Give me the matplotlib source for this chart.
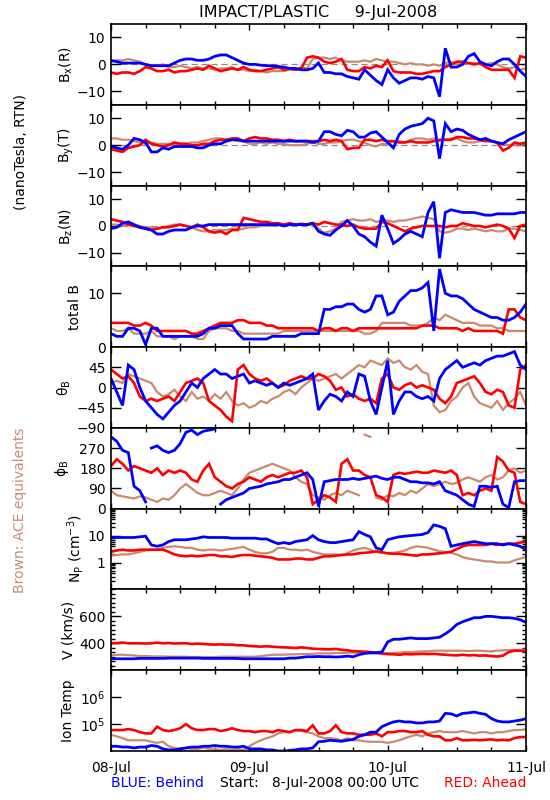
import numpy as np
import matplotlib
matplotlib.use('Agg')
import matplotlib.pyplot as plt
from matplotlib.ticker import FixedLocator, NullLocator, MultipleLocator, LogLocator, NullFormatter, FixedFormatter, AutoMinorLocator

# ---------------- data (hourly samples, 8-Jul-2008 00:00 .. 11-Jul-2008 00:00) ----------------
hours = np.arange(73)

bx_blue = [1.5, 1, 0.5, 0.5, 0.5, 0.5, 0, -0.5, -0.5, -0.5, -0.5, 0.5,
           1.5, 2, 2, 1.5, 1.5, 2, 3, 3.5, 3.5, 2.5, 1.5, 0.5,
           0, 0, -0.3, -0.5, -0.5, -0.8, -1, -1.5, -1.5, -2, -2, -1.5,
           0.5, -3, -3, -3.5, -3.5, -4.5, -5, -5.5, -2, -4, -6, -7.5,
           -2, -5, -7, -6, -5, -5, -5.5, -4.5, -5, -12, 6, -1,
           -1, 0, 3, 4, 1, 0, -0.5, 1, 2, 2, 0, -2.5,
           -4.5]
bx_red = [-3, -3.5, -3, -3, -3.5, -2.5, -1, -1.5, -2.5, -2.5, -2, -3,
          -2.5, -2.5, -2, -1.5, -2, -0.5, -1.5, -2.5, -2, -1.5, -2, -1,
          -2, -2.5, -2.5, -2, -1.5, -1, -2, -1.5, -2, -1.5, 2.5, 3,
          2.5, 1, 0.5, 1, 2, -2, -2.5, -2.5, -1, -1.5, -0.5, -1,
          1.5, -2.5, -3, -3, -3, -3.5, -3.5, -3, -2.5, -2.5, -1, 0,
          1, 1, 0.5, 0, 0.5, -1, -2, -2, -2, -2, -5, 3,
          2.5]
bx_brown = [1, 1.5, 1.5, 2, 1.5, 1, 0, -0.5, -0.5, 0, -1, -1,
            -0.5, -1, -1.5, -1, -1.5, -1.5, -2, -1.5, -1.5, -1, -2, -2,
            -2.5, -2, -2.5, -3, -2.5, -2.5, -2.5, -2, -2, -1, -1.5, 2,
            2.5, 2.5, 2, 2.5, 1.5, 1, 1, 1, 1.5, 1, 2, 1.5,
            1, 1, 0.5, 0, 0.5, 0, 0, -0.5, 0, -0.5, 0.5, 1,
            0, 0.5, 0.5, 0.5, 0, 0, 0.5, 0, -1, -1.5, -1, -2,
            -1.5]

by_blue = [-0.5, -1, -1.5, 0, 2.5, 2, 1, -2.5, -2.5, -1, -1.5, -0.5,
           -0.5, -0.5, -0.5, -1, -1, 0, 0.5, 0.5, 1.5, 2, 2, 1.5,
           1.5, 1.5, 1.5, 1.5, 1.5, 1.5, 1.5, 1.5, 1.5, 1.5, 1.5, 1,
           1.5, 5, 5, 4, 3.5, 5.5, 5, 3, 3, 4.5, 5, 3,
           1, -1, 4, 6, 7, 7.5, 8, 10, 9, -5, 8, 5,
           6, 5.5, 4, 3, 2, 2.5, 1.5, 1, 0.5, 2, 3, 4,
           5]
by_red = [-1.5, -2, -2.5, -1, -0.5, 0, 2, 0.5, 0, -0.5, 0, 1,
          0.5, 0.5, 0, 0, 0.5, 0.5, 1.5, 2, 2, 2.5, 2.5, 1.5,
          2.5, 3, 2.5, 2.5, 2, 2, 1.5, 2, 1.5, 1.5, 1.5, 1.5,
          1.5, 2, 1.5, 2, 1.5, -1.5, -1, -1, 2, 2, 1.5, 2,
          1.5, 1.5, 1, 1, 1.5, 1, 1, 1, 1.5, 2, 2, 2,
          3, 3, 2.5, 2.5, 2, 1.5, 1.5, 1, -2, -1, 1, 0.5,
          1]
by_brown = [2.5, 2.5, 2, 2, 1.5, 1, 0.5, 1, 0.5, 0.5, 0.5, 0,
            0.5, 0.5, 1, 1, 1.5, 2, 2.5, 2.5, 2, 2, 1.5, 1.5,
            0.5, 0.5, 1, 0.5, 1, 0.5, 0.5, 0, 0, 0, 0.5, 1,
            0.5, 0.5, 1, 1, 1.5, 2, 2, 1.5, 1, 0, -0.5, 0.5,
            0.5, 1.5, 1.5, 1, 2, 2.5, 2.5, 2, 2.5, 1.5, 2, 2.5,
            2.5, 1.5, 1, 1, 1.5, 2, 1.5, 1, 0.5, 0, 0.5, 0,
            0.5]

bz_blue = [-1, -0.5, 1, 1.5, 0.5, -0.5, -1, -1.5, -3, -3, -2, -1.5,
           -1.5, -1.5, -0.5, 0, 0, 0.5, 0.5, 0.5, 0.5, 0.5, 0.5, 0.5,
           0.5, 0.5, 0.5, 0.5, 0.5, 0.5, 0, 0.5, 0.5, 0.5, 0.5, 1,
           -2, -3, -3.5, -1.5, 0, 2, 0, -3, -4, -6, -7.5, 4,
           -1, -6.5, -5, -3, -2, -3, -4, 5, 9, -12, 5, 6,
           5.5, 5, 5, 5, 4.5, 4, 4, 4.5, 4.5, 4.5, 4.5, 5,
           5]
bz_red = [2.5, 2, 1.5, 0.5, 0, -0.5, -1, -1.5, -1, -0.5, -0.5, 0,
          0.5, 0, -0.5, 0.5, -0.5, -2, -2.5, -2, -3, -1.5, -1.5, 3,
          2.5, 2, 1.5, 1.5, 1, 1, 0.5, 1, 0.5, 0.5, 0.5, 1,
          0.5, 1.5, 1, 0.5, 0.5, 0, 0.5, -0.5, -1, -1, -1, 1.5,
          1, 0, -1, -2, -1, -0.5, 0, 0, 0, 0, -0.5, 0,
          0, 1, 0.5, 0, 0, -0.5, 0, 0.5, 0, -1, -4.5, 0,
          0.5]
bz_brown = [0.5, 0.5, 0, 0.5, 0.5, 0, -0.5, -0.5, -1, -0.5, 0, 0.5,
            0.5, 0, -0.5, -1.5, -2, -2, -1.5, -1.5, -1.5, -1, -1.5, -1,
            -0.5, -0.5, 0, 0, 0, 0.5, 0.5, 1, 0.5, 1, 0.5, 0.5,
            -1, -2.5, -2, -1, 1.5, 2, 2.5, 2, 2, 2.5, 1.5, 2,
            2, 1.5, 2, 2, 2.5, 3, 3.5, 3, 2.5, -2, -2.5, -2,
            -1, -1, -1.5, -1, -1.5, -2, -1.5, -2, -2, -1, -1, -1.5,
            -2]

bt_blue = [2.5, 2, 2, 3.5, 3.5, 3, 0.5, 3.5, 3.5, 2, 2, 2,
           2, 2, 2, 2, 2.5, 3.5, 3.5, 4, 4, 4, 2.5, 1.5,
           1.5, 1.5, 1.5, 1.5, 2, 2, 2, 2, 2, 2.5, 2.5, 2.5,
           2.5, 7, 7, 7.5, 7.5, 8, 8, 7, 6.5, 7, 9.5, 9.5,
           6, 6.5, 8.5, 9.5, 10.5, 10.5, 11, 12, 3, 14.5, 10, 9.5,
           9.5, 9, 8, 7, 6.5, 6, 5.5, 5.5, 5, 5, 5.5, 6.5,
           8]
bt_red = [4.5, 4.5, 4.5, 4.5, 4, 4, 4.5, 4, 3, 3, 3, 3,
          3, 3, 2.5, 2.5, 3, 3.5, 4, 4.5, 4.5, 4.5, 5, 5,
          4.5, 4.5, 4.5, 4, 4, 3.5, 3.5, 3.5, 3.5, 3.5, 3.5, 3.5,
          3, 3.5, 3.5, 3, 3.5, 3.5, 3, 3.5, 3.5, 3.5, 3.5, 3.5,
          3.5, 3.5, 3.5, 3.5, 3.5, 3.5, 4, 4, 4, 3.5, 3.5, 3.5,
          3.5, 3, 3.5, 3, 3, 3, 3, 3, 2.5, 7, 7, 5.5,
          5]
bt_brown = [3.5, 3, 3, 3.5, 2.5, 2.5, 2.5, 3, 2, 2, 2, 1.5,
            2, 2, 2, 1.5, 1.5, 3, 3.5, 3.5, 3.5, 3, 3, 2.5,
            2.5, 2.5, 2.5, 2.5, 2.5, 2.5, 3, 3, 3, 3, 3, 3,
            3, 3, 3, 3, 3, 3, 3, 3, 2.5, 2.5, 3, 4.5,
            4.5, 4.5, 4.5, 4.5, 4, 4, 4, 4.5, 5.5, 5, 6, 5.5,
            5, 4.5, 4.5, 4.5, 4, 4, 4, 3.5, 3.5, 3, 3, 3,
            3]

th_blue = [20, -10, -40, 50, 40, 0, -30, -45, -60, -70, -55, -40,
           -30, -10, 10, 0, 20, 30, 40, 30, 30, 20, 25, 30,
           10, 15, 10, 5, 10, 0, 10, 5, 10, 15, 20, 30,
           -50, -30, -15, -20, -30, -10, -20, 30, 25, -30, -60, 0,
           60, -60, -30, -10, -10, -20, -25, -20, -30, 20, 40, 50,
           60, 45, 50, 55, 50, 60, 65, 70, 70, 75, 80, 50,
           40]
th_red = [40, 30, 20, 25, 10, -20, -30, -25, -30, -25, -20, -30,
          -10, 10, 15, 20, 10, -30, -40, -50, -65, -75, 40, 50,
          30, 20, 15, 20, 10, 0, 5, 15, 20, 25, 20, 20,
          30, 25, 15, -5, 0, -20, -15, -25, -30, -25, -35, 20,
          30, 0, -5, 5, 10, 0, 5, 0, -5, -25, -35, -20,
          10, 15, 20, 25, 10, -10, -15, -5, -10, -40, -45, 40,
          50]
th_brown = [10, 15, 10, 30, 25, 20, 15, 10, -10, -20, -15, -5,
            -20, -30, -10, -25, -20, -30, -15, -25, -10, -30, -40, -35,
            -45, -40, -30, -35, -25, -20, -10, -5, -15, 0, 10, 20,
            15, 20, 25, 30, 20, 30, 40, 50, 45, 60, 55, 50,
            65, 55, 60, 45, 40, 50, 35, 30, -40, -55, -50, -30,
            -20, 0, 10, -20, -35, -40, -45, -30, -50, -35, -25, -10,
            -40]

ph_blue = [320, 300, 260, 250, 100, 80, 30, 270, 280, 260, 250, 260,
           290, 340, 350, 330, 345, 350, 355, 20, 40, 50, 60, 70,
           90, 95, 100, 110, 115, 120, 130, 130, 140, 150, 160, 130,
           10, 120, 125, 130, 130, 130, 135, 130, 135, 140, 145, 135,
           130, 140, 140, 130, 120, 120, 115, 115, 110, 120, 80, 70,
           60, 40, 20, 10, 100, 100, 95, 100, 20, 5, 120, 125,
           125]
ph_red = [190, 220, 200, 170, 190, 180, 170, 160, 180, 150, 170, 160,
          170, 160, 130, 120, 170, 200, 140, 120, 100, 90, 110, 120,
          140, 130, 120, 140, 150, 140, 150, 160, 160, 170, 140, 20,
          40, 60, 50, 30, 200, 220, 170, 170, 150, 140, 60, 50,
          30, 150, 160, 155, 160, 165, 160, 160, 170, 165, 160, 170,
          150, 60, 70, 60, 80, 90, 80, 230, 210, 170, 160, 30,
          20]
ph_brown = [80, 60, 55, 50, 45, 55, 50, 40, 30, 45, 40, 60,
            90, 110, 90, 70, 60, 60, 70, 80, 70, 60, 90, 130,
            160, 170, 180, 190, 200, 190, 180, 170, 140, 120, 110, 60,
            50, 40, 60, 70, 60, 80, 70, 60, 330, 320, 50, 40,
            60, 55, 70, 60, 80, 70, 90, 110, 100, 110, 120, 110,
            115, 130, 140, 130, 120, 140, 150, 130, 140, 170, 180, 160,
            170]

np_blue = [8.5, 8.5, 8.5, 8.5, 8.5, 9, 9.5, 4.5, 4, 4.5, 6, 7,
           7, 7, 7.5, 8, 9, 8.5, 8.5, 8.5, 8.5, 8, 8, 8,
           8, 8, 7.5, 7.5, 6, 5, 5.5, 5, 6, 6.5, 7, 10,
           7, 6, 5.5, 5.5, 6, 6.5, 7, 14, 11, 9, 3.5, 3,
           7, 8, 9, 9.5, 10, 10.5, 11, 13, 25, 22, 18, 4,
           4.5, 5, 5.5, 6, 5.5, 5, 5, 5, 4.5, 5, 4.5, 4,
           3]
np_red = [2.5, 2.8, 3, 2.8, 2.8, 3, 3, 3, 3, 3, 2.5, 2,
          1.8, 1.7, 1.8, 1.7, 1.8, 1.9, 1.9, 1.7, 1.7, 1.6, 1.8, 1.9,
          1.9, 1.8, 1.7, 1.6, 1.5, 1.3, 1.3, 1.3, 1.4, 1.4, 1.3, 1.3,
          1.5, 1.7, 1.7, 1.8, 1.9, 2, 2, 2.2, 2.3, 2.4, 2.6, 2.4,
          2.2, 2.1, 2.1, 2, 1.9, 1.8, 2, 2, 2.1, 2.2, 2.3, 2.5,
          3.2, 4, 4.5, 4.5, 4.5, 4.5, 5, 4.5, 4.8, 5, 5, 5.5,
          6]
np_brown = [1.8, 1.9, 2, 2, 2.2, 2.5, 2.8, 3, 3, 3.5, 3.8, 4,
            3.8, 3.5, 3.5, 3, 2.8, 3, 3, 2.8, 3, 3.2, 3.5, 3.8,
            3, 2.5, 2.2, 2.2, 2.5, 3.5, 3.5, 3, 3, 2.8, 3, 2.5,
            2.2, 2, 2, 2, 1.9, 2.2, 2.8, 3.2, 3.5, 3, 2.5, 2.3,
            2.2, 2.3, 2.5, 2.8, 3.5, 4, 3.8, 3.5, 3, 2.6, 2.5, 2.3,
            2, 1.6, 1.4, 1.3, 1.2, 1.1, 1.1, 1, 1, 1, 1.2, 1.4,
            1.6]

v_blue = [285, 285, 285, 285, 285, 288, 288, 288, 288, 288, 290, 290,
          290, 290, 290, 290, 288, 288, 288, 288, 288, 288, 287, 285,
          285, 285, 285, 285, 285, 285, 285, 290, 290, 295, 300, 300,
          302, 300, 300, 298, 300, 305, 300, 315, 325, 330, 330, 335,
          410, 430, 430, 435, 440, 435, 435, 435, 440, 445, 470, 500,
          540, 560, 575, 590, 590, 600, 600, 595, 590, 590, 585, 575,
          555]
v_red = [400, 402, 405, 400, 400, 400, 398, 400, 405, 400, 402, 398,
         400, 400, 395, 398, 395, 392, 390, 392, 390, 390, 385, 385,
         380, 378, 375, 378, 375, 372, 370, 368, 365, 370, 365, 360,
         358, 356, 355, 358, 352, 348, 342, 340, 338, 335, 330, 325,
         320, 318, 315, 320, 318, 320, 322, 320, 322, 318, 315, 312,
         310, 315, 310, 312, 308, 310, 305, 302, 308, 335, 345, 345,
         340]
v_brown = [310, 315, 315, 312, 310, 305, 305, 303, 302, 302, 300, 300,
           300, 300, 298, 298, 298, 297, 298, 300, 300, 300, 300, 300,
           300, 300, 305, 310, 315, 315, 315, 318, 318, 320, 320, 322,
           325, 325, 325, 328, 328, 330, 330, 330, 328, 325, 325, 325,
           325, 328, 330, 335, 335, 338, 340, 340, 345, 345, 345, 345,
           345, 345, 342, 345, 345, 342, 340, 345, 348, 350, 350, 352,
           352]

t_blue = [1.5e4, 1.5e4, 1.4e4, 1.4e4, 1.3e4, 1.4e4, 1.4e4, 1.6e4, 1.5e4, 1.2e4, 1.1e4, 1.1e4,
          1.2e4, 1.3e4, 1.4e4, 1.4e4, 1.5e4, 1.5e4, 1.6e4, 1.5e4, 1.5e4, 1.4e4, 1.4e4, 1.5e4,
          1.2e4, 1.2e4, 1.2e4, 1.1e4, 1.1e4, 1.0e4, 1.0e4, 1.05e4, 1.1e4, 1.2e4, 1.2e4, 1.3e4,
          2.2e4, 2.3e4, 2.5e4, 2.4e4, 2.3e4, 2.5e4, 2.7e4, 3.5e4, 4e4, 5e4, 5e4, 8e4,
          1e5, 1.2e5, 1.3e5, 1.2e5, 1.2e5, 1.1e5, 1.1e5, 1.2e5, 1.2e5, 1.3e5, 2.5e5, 2.4e5,
          2e5, 2.5e5, 2.6e5, 2.8e5, 2.5e5, 2.3e5, 1.6e5, 1.3e5, 1.2e5, 1.2e5, 1.3e5, 1.4e5,
          1.6e5]
t_red = [6e4, 6e4, 6e4, 6.5e4, 6e4, 5e4, 4.5e4, 4.5e4, 8e4, 6e4, 5.5e4, 6e4,
         7e4, 1e5, 7e4, 6e4, 6e4, 6.5e4, 6.5e4, 5.5e4, 6e4, 7e4, 6e4, 5.5e4,
         5.5e4, 5e4, 5.5e4, 5.5e4, 5e4, 6e4, 5.5e4, 5e4, 6e4, 6e4, 5.5e4, 9e4,
         4.5e4, 4.5e4, 5.5e4, 9e4, 5e4, 4.5e4, 4.5e4, 4e4, 4e4, 4e4, 4.5e4, 3.5e4,
         5e4, 5e4, 5.5e4, 5.5e4, 5e4, 5e4, 5.5e4, 4e4, 3.5e4, 3.5e4, 2.5e4, 2.5e4,
         3e4, 2.5e4, 2.5e4, 2.6e4, 2.5e4, 2.6e4, 2.7e4, 2.5e4, 2.6e4, 2.5e4, 3e4, 3.3e4,
         3.3e4]
t_brown = [4e4, 3.5e4, 3e4, 2.5e4, 2.5e4, 2.5e4, 2.5e4, 2.2e4, 2e4, 2.2e4, 1.5e4, 1.3e4,
           1.2e4, 1.3e4, 1.2e4, 1.2e4, 1.3e4, 1.2e4, 1.2e4, 1.1e4, 1.2e4, 1.1e4, 1.2e4, 1.1e4,
           1.5e4, 2e4, 2.5e4, 3e4, 3.5e4, 4.5e4, 5e4, 5e4, 6e4, 5.5e4, 5e4, 4.5e4,
           3.5e4, 3e4, 3e4, 2.8e4, 2.5e4, 3e4, 2.5e4, 2.5e4, 2.3e4, 2.2e4, 2.2e4, 2.2e4,
           2e4, 2.2e4, 2.5e4, 3e4, 3.5e4, 4e4, 3.5e4, 4.5e4, 5e4, 5.5e4, 5e4, 5e4,
           5e4, 5.5e4, 5e4, 4.5e4, 5e4, 5e4, 4.5e4, 5e4, 5e4, 5.5e4, 6e4, 6e4,
           6.5e4]

day_labels = ['08-Jul', '09-Jul', '10-Jul', '11-Jul']

# ---------------- styling ----------------
BLUE = '#0000FF'
RED = '#FF0000'
BROWN = '#C98A6E'
FS = 10

plt.rcParams['font.family'] = ['DejaVu Sans']
plt.rcParams['mathtext.default'] = 'regular'

fig = plt.figure(figsize=(5.5, 8), dpi=100)
L, R = 111 / 550, 526 / 550
TOP, BOT = 1 - 24 / 800, 1 - 751 / 800
H = (TOP - BOT) / 9


def unwrap_nan(x, y, jump=180):
    x = np.asarray(x, float)
    y = np.asarray(y, float)
    xs, ys = [x[0]], [y[0]]
    for i in range(1, len(y)):
        if abs(y[i] - y[i - 1]) > jump:
            xs.append(np.nan)
            ys.append(np.nan)
        xs.append(x[i])
        ys.append(y[i])
    return np.array(xs), np.array(ys)


panels = [
    dict(label=r'B$_{x}$(R)', data=(bx_brown, bx_red, bx_blue), ylim=(-15, 15), ticks=[-10, 0, 10],
         tlab=['\u221210', '0', '10'], zero=True, lx=66),
    dict(label=r'B$_{y}$(T)', data=(by_brown, by_red, by_blue), ylim=(-15, 15), ticks=[-10, 0, 10],
         tlab=['\u221210', '0', '10'], zero=True, lx=66),
    dict(label=r'B$_{z}$(N)', data=(bz_brown, bz_red, bz_blue), ylim=(-15, 15), ticks=[-10, 0, 10],
         tlab=['\u221210', '0', '10'], zero=True, lx=66),
    dict(label='total B', data=(bt_brown, bt_red, bt_blue), ylim=(0, 15), ticks=[0, 10],
         tlab=['0', '10'], lx=75),
    dict(label=r'$\theta_{B}$', data=(th_brown, th_red, th_blue), ylim=(-90, 90), ticks=[-90, -45, 0, 45],
         tlab=['\u221290', '\u221245', '0', '45'], lx=64),
    dict(label=r'$\phi_{B}$', data=(ph_brown, ph_red, ph_blue), ylim=(0, 360), ticks=[0, 90, 180, 270],
         tlab=['0', '90', '180', '270'], wrap=True, lx=62),
    dict(label=r'N$_{P}$ (cm$^{-3}$)', data=(np_brown, np_red, np_blue), ylim=(0.1, 100), ticks=[1, 10],
         tlab=['1', '10'], log=True, lx=76),
    dict(label='V (km/s)', data=(v_brown, v_red, v_blue), ylim=(200, 800), ticks=[400, 600],
         tlab=['400', '600'], vminor=True, lx=68),
    dict(label='Ion Temp', data=(t_brown, t_red, t_blue), ylim=(1e4, 1e7), ticks=[1e5, 1e6],
         tlab=[r'10$^{5}$', r'10$^{6}$'], log=True, nominor=True, lx=68),
]

colors = (BROWN, RED, BLUE)
widths = (1.6, 1.9, 2.0)

for i, p in enumerate(panels):
    ax = fig.add_axes([L, TOP - (i + 1) * H, R - L, H])
    if p.get('log'):
        ax.set_yscale('log')
    if p.get('zero'):
        ax.axhline(0, color='#8c8c8c', lw=0.9, ls=(0, (5, 3)), zorder=1)
    for arr, c, w in zip(p['data'], colors, widths):
        if p.get('wrap'):
            xx, yy = unwrap_nan(hours, arr)
        else:
            xx, yy = hours, np.asarray(arr, float)
        ax.plot(xx, yy, color=c, lw=w, zorder=2, solid_joinstyle='miter')
    ax.set_xlim(0, 72)
    ax.set_ylim(*p['ylim'])
    ax.yaxis.set_major_locator(FixedLocator(p['ticks']))
    ax.yaxis.set_major_formatter(FixedFormatter(p['tlab']))
    if p.get('log'):
        if p.get('nominor'):
            ax.yaxis.set_minor_locator(NullLocator())
        else:
            ax.yaxis.set_minor_locator(LogLocator(base=10, subs=np.arange(2, 10)))
        ax.yaxis.set_minor_formatter(NullFormatter())
    elif p.get('vminor'):
        ax.yaxis.set_minor_locator(AutoMinorLocator(6))
    else:
        ax.yaxis.set_minor_locator(NullLocator())
    ax.xaxis.set_major_locator(FixedLocator([0, 24, 48, 72]))
    ax.xaxis.set_minor_locator(MultipleLocator(6))
    if i == len(panels) - 1:
        ax.set_xticklabels(day_labels)
    else:
        ax.set_xticklabels([])
    ax.tick_params(axis='both', which='both', direction='in', top=True, right=True,
                   labelsize=FS, width=1.0, colors='black')
    ax.tick_params(axis='x', which='major', length=4, pad=7)
    ax.tick_params(axis='x', which='minor', length=3)
    ax.tick_params(axis='y', which='major', length=7, pad=4)
    ax.tick_params(axis='y', which='minor', length=3)
    for s in ax.spines.values():
        s.set_linewidth(1.2)
    ax.set_ylabel(p['label'], fontsize=FS, va='center')
    ax.yaxis.set_label_coords((p['lx'] - 111) / 415, 0.5)

fig.text((L + R) / 2, 1 - 12 / 800, 'IMPACT/PLASTIC     9-Jul-2008', ha='center', va='center', fontsize=11.5)
fig.text(21 / 550, 1 - 152 / 800, '(nanoTesla, RTN)', rotation=90, ha='center', va='center', fontsize=FS)
fig.text(20 / 550, 1 - 510 / 800, 'Brown: ACE equivalents', rotation=90, ha='center', va='center',
         fontsize=FS, color=BROWN)
fig.text(111 / 550, 1 - 783 / 800, 'BLUE: Behind', ha='left', va='center', fontsize=FS, color=BLUE)
fig.text(319 / 550, 1 - 783 / 800, 'Start:   8-Jul-2008 00:00 UTC', ha='center', va='center', fontsize=FS)
fig.text(526 / 550, 1 - 783 / 800, 'RED: Ahead', ha='right', va='center', fontsize=FS, color=RED)

fig.savefig('out.png', dpi=100)
